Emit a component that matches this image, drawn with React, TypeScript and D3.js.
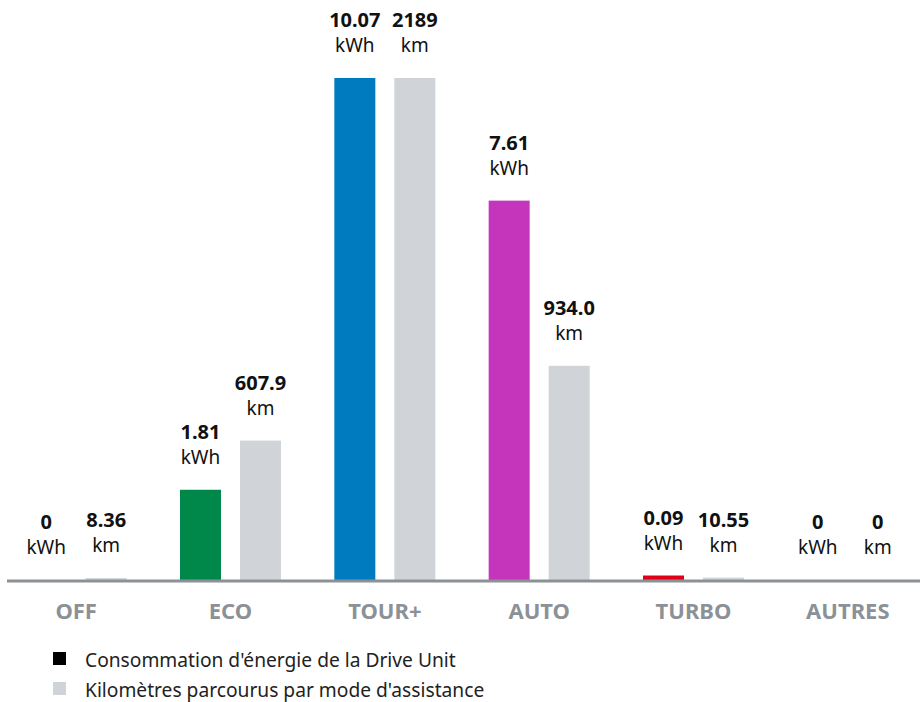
import React from 'react';
import * as d3 from 'd3';

// assistance modes
const modes = ['OFF', 'ECO', 'TOUR+', 'AUTO', 'TURBO', 'AUTRES'];
// energy per mode (kWh) and its printed label
const energy = [0, 1.81, 10.07, 7.61, 0.09, 0];
const energyLabels = ['0', '1.81', '10.07', '7.61', '0.09', '0'];
// distance per mode (km) and its printed label
const distance = [8.36, 607.9, 2189, 934.0, 10.55, 0];
const distanceLabels = ['8.36', '607.9', '2189', '934.0', '10.55', '0'];
const modeColors = ['#000000', '#00884a', '#007bc0', '#c535bc', '#e00015', '#000000'];
const legendItems = ["Consommation d'énergie de la Drive Unit", "Kilomètres parcourus par mode d'assistance"];

const W = 920, H = 702;
const base = 580, top = 78;
const grey = '#d0d4d8';
const axisGrey = '#8c9197';
const font = "'Noto Sans', sans-serif";

export default function App() {
	const x = d3.scaleBand().domain(modes).range([-1, 925]);
	const inner = d3.scaleBand().domain(['e', 'd']).range([0, 101]).paddingInner(0.3167);
	const yE = d3.scaleLinear().domain([0, d3.max(energy)]).range([base, top]);
	const yD = d3.scaleLinear().domain([0, d3.max(distance)]).range([base, top]);

	const label = (cx, yTop, value, unit, key) =>
		<g key={key} textAnchor="middle" fontFamily={font} fill="#111">
			<text x={cx} y={yTop - 51} fontWeight="bold" fontSize={20}>{value}</text>
			<text x={cx} y={yTop - 26} fontSize={19}>{unit}</text>
		</g>;

	return (
		<svg width={W} height={H} style={{ position: 'absolute', left: 0, top: 0 }}>
			{modes.map((m, i) => {
				const g0 = x(m) + x.bandwidth() / 2 - 50.5;
				const ex = g0 + inner('e'), dx = g0 + inner('d');
				const bw = inner.bandwidth();
				return (
					<g key={m}>
						<rect x={ex} y={yE(energy[i])} width={bw} height={base - yE(energy[i])} fill={modeColors[i]} />
						<rect x={dx} y={yD(distance[i])} width={bw} height={base - yD(distance[i])} fill={grey} />
						{label(ex + bw / 2, yE(energy[i]), energyLabels[i], 'kWh', 'e')}
						{label(dx + bw / 2, yD(distance[i]), distanceLabels[i], 'km', 'd')}
						<text x={x(m) + x.bandwidth() / 2} y={619} textAnchor="middle" fontFamily={font}
							fontWeight="bold" fontSize={22} fill={axisGrey}>{m}</text>
					</g>
				);
			})}
			<line x1={7} x2={920} y1={581} y2={581} stroke={axisGrey} strokeWidth={3} />
			{legendItems.map((t, i) => (
				<g key={t} transform={`translate(53,${652 + i * 30})`}>
					<rect width={13} height={13} fill={i === 0 ? '#000' : grey} />
					<text x={32} y={14.5} fontFamily={font} fontSize={19.2} fill="#222">{t}</text>
				</g>
			))}
		</svg>
	);
}
